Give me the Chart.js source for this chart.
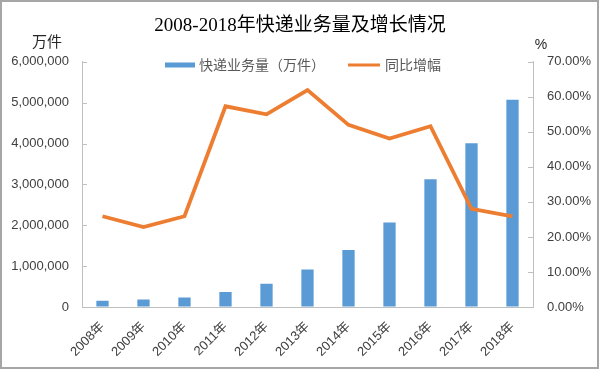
<!DOCTYPE html>
<html>
<head>
<meta charset="utf-8">
<script src="https://cdn.jsdelivr.net/npm/chart.js@4.4.1/dist/chart.umd.min.js"></script>
<style>
html,body{margin:0;padding:0;background:#fff;}
#wrap{width:600px;height:370px;position:relative;}
</style>
</head>
<body>
<div id="wrap"><canvas id="c" width="600" height="370"></canvas></div>
<script>
const years = ['2008年','2009年','2010年','2011年','2012年','2013年','2014年','2015年','2016年','2017年','2018年'];
const volume = [150000, 185000, 234000, 367000, 569000, 919000, 1396000, 2067000, 3128000, 4006000, 5071000];
const growth = [25.9, 22.8, 25.9, 57.3, 55.0, 61.9, 52.0, 48.1, 51.6, 28.0, 25.9];
const volumeLabel = '快递业务量（万件）';
const growthLabel = '同比增幅';
const titleText = '2008-2018年快递业务量及增长情况';
const leftUnit = '万件';
const rightUnit = '%';

const SANS = '"Liberation Sans", "Noto Sans CJK SC", sans-serif';
const CJK = '"Noto Sans CJK SC", sans-serif';
const AXIS = '#BFBFBF';
const TXT = '#404040';

const framePlugin = {
  id: 'frame',
  beforeDraw(chart) {
    const ctx = chart.ctx;
    ctx.save();
    ctx.fillStyle = '#fff';
    ctx.fillRect(0, 0, chart.width, chart.height);
    ctx.restore();
  },
  afterDraw(chart) {
    const ctx = chart.ctx;
    const a = chart.chartArea;
    ctx.save();
    // inner tick marks
    ctx.strokeStyle = AXIS;
    ctx.lineWidth = 1;
    const ys = chart.scales.y, yr = chart.scales.y1;
    ys.ticks.forEach(t => {
      const p = Math.round(ys.getPixelForValue(t.value)) + 0.5;
      ctx.beginPath(); ctx.moveTo(a.left, p); ctx.lineTo(a.left + 5, p); ctx.stroke();
    });
    yr.ticks.forEach(t => {
      const p = Math.round(yr.getPixelForValue(t.value)) + 0.5;
      ctx.beginPath(); ctx.moveTo(a.right - 5, p); ctx.lineTo(a.right, p); ctx.stroke();
    });
    // unit labels
    ctx.fillStyle = '#262626';
    ctx.font = '15px ' + CJK;
    ctx.textAlign = 'center';
    ctx.textBaseline = 'middle';
    ctx.fillText(leftUnit, 47, 41);
    ctx.font = '14px ' + SANS;
    ctx.fillText(rightUnit, 541, 45);
    // legend
    const ly = 65;
    const ds = chart.data.datasets;
    ctx.font = '14px ' + CJK;
    ctx.textAlign = 'left';
    ctx.fillStyle = ds[0].backgroundColor;
    ctx.fillRect(165, ly - 2.5, 30, 5);
    ctx.fillStyle = '#595959';
    ctx.fillText(ds[0].label, 199, ly);
    ctx.strokeStyle = ds[1].borderColor;
    ctx.lineWidth = 3;
    ctx.beginPath(); ctx.moveTo(348, ly); ctx.lineTo(380, ly); ctx.stroke();
    ctx.fillStyle = '#595959';
    ctx.fillText(ds[1].label, 385, ly);
    // outer frame
    ctx.strokeStyle = '#A6A6A6';
    ctx.lineWidth = 2;
    ctx.strokeRect(1, 1, 597, 367);
    ctx.restore();
  }
};

new Chart(document.getElementById('c'), {
  type: 'bar',
  data: {
    labels: years,
    datasets: [
      {
        type: 'bar',
        label: volumeLabel,
        data: volume,
        backgroundColor: '#5B9BD5',
        borderWidth: 0,
        barPercentage: 0.3,
        categoryPercentage: 1.0,
        yAxisID: 'y',
        order: 2
      },
      {
        type: 'line',
        label: growthLabel,
        data: growth,
        borderColor: '#ED7D31',
        backgroundColor: '#ED7D31',
        borderWidth: 3.8,
        pointRadius: 0,
        tension: 0,
        fill: false,
        yAxisID: 'y1',
        order: 1
      }
    ]
  },
  options: {
    responsive: false,
    animation: false,
    devicePixelRatio: 1,
    layout: { padding: { left: 0, right: 0, top: 0, bottom: 0 } },
    plugins: {
      legend: { display: false },
      tooltip: { enabled: false },
      title: {
        display: true,
        text: titleText,
        color: '#000',
        font: { family: '"Liberation Serif", "Noto Sans CJK SC", serif', size: 19, weight: 'normal' },
        padding: { top: 15, bottom: 24 }
      }
    },
    scales: {
      x: {
        offset: true,
        grid: { display: false, drawTicks: false },
        border: { display: true, color: AXIS, width: 1 },
        ticks: {
          color: TXT,
          font: { family: SANS, size: 13 },
          minRotation: 45,
          maxRotation: 45,
          padding: 12,
          autoSkip: false
        },
        afterFit(s) { s.height = 63; }
      },
      y: {
        position: 'left',
        min: 0,
        max: 6000000,
        grid: { drawOnChartArea: false, drawTicks: false },
        border: { display: true, color: AXIS, width: 1 },
        ticks: {
          stepSize: 1000000,
          color: TXT,
          padding: 13,
          font: { family: SANS, size: 13 },
          callback: v => Number(v).toLocaleString('en-US')
        },
        afterFit(s) { s.width = 82; }
      },
      y1: {
        position: 'right',
        min: 0,
        max: 70,
        grid: { drawOnChartArea: false, drawTicks: false },
        border: { display: true, color: AXIS, width: 1 },
        ticks: {
          stepSize: 10,
          color: TXT,
          padding: 14,
          font: { family: SANS, size: 13 },
          callback: v => Number(v).toFixed(2) + '%'
        },
        afterFit(s) { s.width = 67; }
      }
    }
  },
  plugins: [framePlugin]
});
</script>
</body>
</html>
